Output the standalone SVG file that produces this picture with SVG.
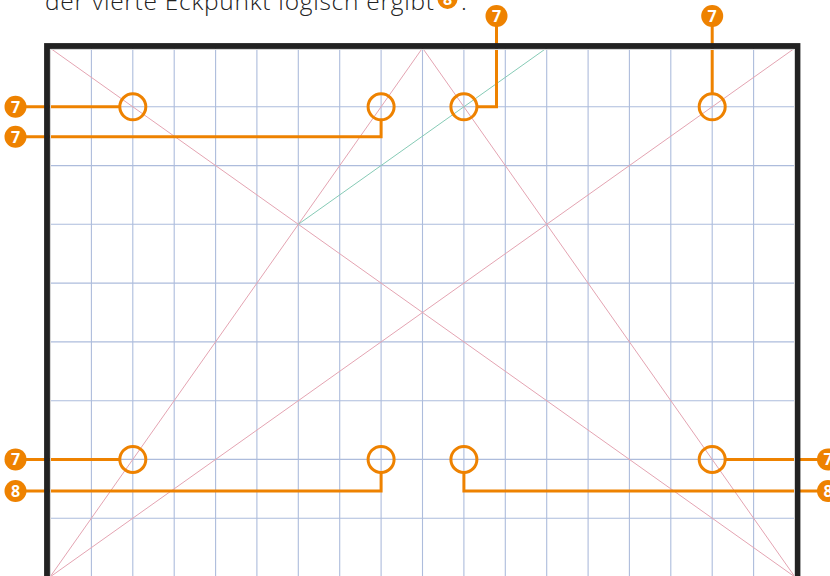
<svg xmlns="http://www.w3.org/2000/svg" width="830" height="576" viewBox="0 0 830 576">
<style>
.grid line{stroke:#adbcdc;stroke-width:1.1}
.pink{stroke:#e4a4b2;stroke-width:1;fill:none}
.green{stroke:#86cbb6;stroke-width:1;fill:none}
.lead{stroke:#ee8200;stroke-width:3;fill:none}
.ring{stroke:#ee8200;stroke-width:3;fill:none}
.badge circle{fill:#ee8200}
.badge text{fill:#fff;font-family:"Open Sans","Liberation Sans",sans-serif;font-weight:700;font-size:16px;text-anchor:middle}
.caption{fill:#222;font-family:"Open Sans","Liberation Sans",sans-serif;font-weight:300;font-size:24.5px}
</style>
<rect x="0" y="0" width="830" height="576" fill="#fff"/>
<text class="caption" x="45" y="10" textLength="389" lengthAdjust="spacing">der vierte Eckpunkt logisch ergibt</text>
<g class="badge" id="caption-badge"><circle cx="447.5" cy="-1" r="10"/><text x="447.5" y="5">8</text></g>
<text class="caption" x="461" y="10">.</text>
<g class="grid" id="grid">
<line x1="91.4" y1="48" x2="91.4" y2="577"/>
<line x1="132.8" y1="48" x2="132.8" y2="577"/>
<line x1="174.2" y1="48" x2="174.2" y2="577"/>
<line x1="215.6" y1="48" x2="215.6" y2="577"/>
<line x1="256.9" y1="48" x2="256.9" y2="577"/>
<line x1="298.3" y1="48" x2="298.3" y2="577"/>
<line x1="339.7" y1="48" x2="339.7" y2="577"/>
<line x1="381.1" y1="48" x2="381.1" y2="577"/>
<line x1="422.5" y1="48" x2="422.5" y2="577"/>
<line x1="463.9" y1="48" x2="463.9" y2="577"/>
<line x1="505.3" y1="48" x2="505.3" y2="577"/>
<line x1="546.7" y1="48" x2="546.7" y2="577"/>
<line x1="588.1" y1="48" x2="588.1" y2="577"/>
<line x1="629.4" y1="48" x2="629.4" y2="577"/>
<line x1="670.8" y1="48" x2="670.8" y2="577"/>
<line x1="712.2" y1="48" x2="712.2" y2="577"/>
<line x1="753.6" y1="48" x2="753.6" y2="577"/>
<line x1="50" y1="106.8" x2="795" y2="106.8"/>
<line x1="50" y1="165.6" x2="795" y2="165.6"/>
<line x1="50" y1="224.3" x2="795" y2="224.3"/>
<line x1="50" y1="283.1" x2="795" y2="283.1"/>
<line x1="50" y1="341.9" x2="795" y2="341.9"/>
<line x1="50" y1="400.7" x2="795" y2="400.7"/>
<line x1="50" y1="459.4" x2="795" y2="459.4"/>
<line x1="50" y1="518.2" x2="795" y2="518.2"/>
</g>
<g id="construction">
<line class="pink" x1="50" y1="48" x2="795" y2="577"/>
<line class="pink" x1="795" y1="48" x2="50" y2="577"/>
<polyline class="pink" points="50,577 422.5,48 795,577"/>
<line class="green" x1="298.3" y1="224.3" x2="546.7" y2="48"/>
</g>
<g id="connectors">
<path class="lead" d="M15.5 106.8 H119.8"/>
<path class="lead" d="M15.5 136.7 H381.1 V119.8"/>
<path class="lead" d="M476.9 106.8 H496.5 V16"/>
<path class="lead" d="M712.2 16 V93.8"/>
<path class="lead" d="M15.5 459.4 H119.8"/>
<path class="lead" d="M15.5 491 H381.1 V472.4"/>
<path class="lead" d="M463.9 472.4 V491 H828"/>
<path class="lead" d="M725.2 459.4 H828"/>
</g>
<rect x="47" y="46" width="750.5" height="600" fill="none" stroke="#222" stroke-width="5.8"/>
<rect x="50.5" y="49.5" width="744" height="600" fill="none" stroke="#d4d4d4" stroke-width="1"/>
<g id="points">
<circle id="pA" class="ring" cx="132.8" cy="106.8" r="13"/>
<circle id="pB" class="ring" cx="381.1" cy="106.8" r="13"/>
<circle id="pC" class="ring" cx="463.9" cy="106.8" r="13"/>
<circle id="pD" class="ring" cx="712.2" cy="106.8" r="13"/>
<circle id="pE" class="ring" cx="132.8" cy="459.4" r="13"/>
<circle id="pF" class="ring" cx="381.1" cy="459.4" r="13"/>
<circle id="pG" class="ring" cx="463.9" cy="459.4" r="13"/>
<circle id="pH" class="ring" cx="712.2" cy="459.4" r="13"/>
</g>
<g id="labels">
<g class="badge" id="lA"><circle cx="15.5" cy="106.8" r="11"/><text x="15.5" y="112.6">7</text></g>
<g class="badge" id="lB"><circle cx="15.5" cy="136.7" r="11"/><text x="15.5" y="142.5">7</text></g>
<g class="badge" id="lC"><circle cx="496.5" cy="16" r="11"/><text x="496.5" y="21.8">7</text></g>
<g class="badge" id="lD"><circle cx="712.2" cy="16" r="11"/><text x="712.2" y="21.8">7</text></g>
<g class="badge" id="lE"><circle cx="15.5" cy="459.4" r="11"/><text x="15.5" y="465.2">7</text></g>
<g class="badge" id="lF"><circle cx="15.5" cy="491" r="11"/><text x="15.5" y="496.8">8</text></g>
<g class="badge" id="lH"><circle cx="828" cy="459.4" r="11"/><text x="828" y="465.2">7</text></g>
<g class="badge" id="lG"><circle cx="828" cy="491" r="11"/><text x="828" y="496.8">8</text></g>
</g>
</svg>
